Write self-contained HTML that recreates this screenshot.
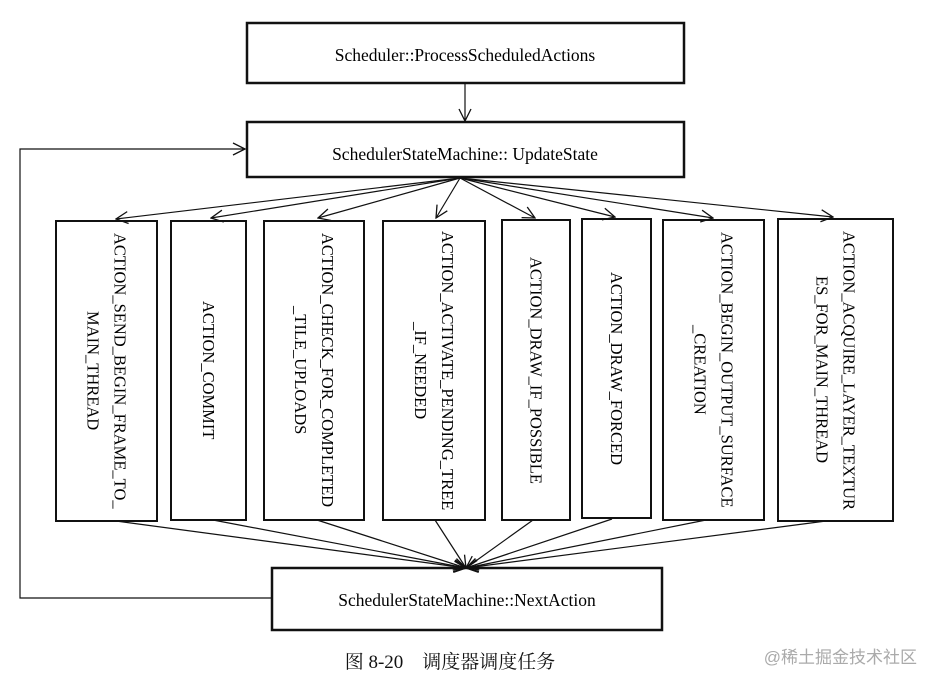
<!DOCTYPE html>
<html><head><meta charset="utf-8"><style>
body{margin:0;background:#fff;width:938px;height:687px;overflow:hidden}
.v{position:absolute;writing-mode:vertical-rl;font-family:"Liberation Serif",serif;font-size:16.5px;color:#000;display:flex;align-items:center;justify-content:center;text-align:center;line-height:27px;box-sizing:border-box;border:2.5px solid #111}
</style></head><body>
<svg width="938" height="687" style="position:absolute;left:0;top:0" font-family="Liberation Serif, serif">
<defs><marker id="a" markerWidth="14" markerHeight="14" refX="13" refY="7" orient="auto" markerUnits="userSpaceOnUse"><path d="M1,1 L13,7 L1,13" fill="none" stroke="#111" stroke-width="1.3"/></marker></defs>
<g fill="none" stroke="#111">
<rect x="247" y="23" width="437" height="60" stroke-width="2.5"/>
<rect x="247" y="122" width="437" height="55" stroke-width="2.5"/>
<rect x="272" y="568" width="390" height="62" stroke-width="2.5"/>
<g stroke-width="1.2" marker-end="url(#a)">
<line x1="465" y1="83" x2="465" y2="121"/>
<polyline points="272,598 20,598 20,149 245,149"/>
<line x1="460" y1="178" x2="116" y2="219"/>
<line x1="460" y1="178" x2="211" y2="218"/>
<line x1="460" y1="178" x2="318" y2="218"/>
<line x1="460" y1="178" x2="436" y2="218"/>
<line x1="460" y1="178" x2="535" y2="218"/>
<line x1="460" y1="178" x2="615" y2="217"/>
<line x1="460" y1="178" x2="713" y2="218"/>
<line x1="460" y1="178" x2="833" y2="217"/>
<line x1="116" y1="521" x2="466" y2="568"/>
<line x1="213" y1="520" x2="466" y2="568"/>
<line x1="317" y1="520" x2="466" y2="568"/>
<line x1="435" y1="520" x2="466" y2="568"/>
<line x1="533" y1="520" x2="466" y2="568"/>
<line x1="612" y1="519" x2="466" y2="568"/>
<line x1="706" y1="520" x2="466" y2="568"/>
<line x1="826" y1="521" x2="466" y2="568"/>
</g></g>
<g font-size="17.5" fill="#000" text-anchor="middle">
<text x="465" y="61">Scheduler::ProcessScheduledActions</text>
<text x="465" y="160">SchedulerStateMachine:: UpdateState</text>
<text x="467" y="606">SchedulerStateMachine::NextAction</text>
</g>
<text x="450" y="668" font-size="19" text-anchor="middle" fill="#111" font-family="Liberation Serif, Noto Serif CJK SC, serif">图 8-20　调度器调度任务</text>
<text x="917" y="663" font-size="17" text-anchor="end" fill="#aaa" font-family="Liberation Sans, Noto Sans CJK SC, sans-serif">@稀土掘金技术社区</text>
</svg>
<div class="v" style="left:55px;top:220px;width:103px;height:302px">ACTION_SEND_BEGIN_FRAME_TO_<br>MAIN_THREAD</div>
<div class="v" style="left:170px;top:220px;width:77px;height:301px">ACTION_COMMIT</div>
<div class="v" style="left:263px;top:220px;width:102px;height:301px">ACTION_CHECK_FOR_COMPLETED<br>_TILE_UPLOADS</div>
<div class="v" style="left:382px;top:220px;width:104px;height:301px">ACTION_ACTIVATE_PENDING_TREE<br>_IF_NEEDED</div>
<div class="v" style="left:501px;top:219px;width:70px;height:302px">ACTION_DRAW_IF_POSSIBLE</div>
<div class="v" style="left:581px;top:218px;width:71px;height:301px">ACTION_DRAW_FORCED</div>
<div class="v" style="left:662px;top:219px;width:103px;height:302px">ACTION_BEGIN_OUTPUT_SURFACE<br>_CREATION</div>
<div class="v" style="left:777px;top:218px;width:117px;height:304px">ACTION_ACQUIRE_LAYER_TEXTUR<br>ES_FOR_MAIN_THREAD</div>
</body></html>
